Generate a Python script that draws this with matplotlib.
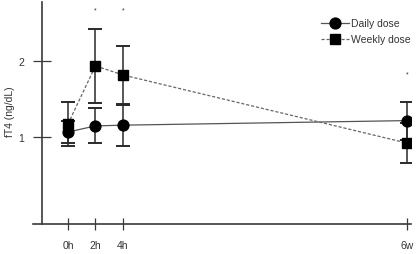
import matplotlib
matplotlib.use("Agg")
import matplotlib.pyplot as plt
from matplotlib import font_manager

names = {f.name for f in font_manager.fontManager.ttflist}
fam = "Liberation Sans Narrow" if "Liberation Sans Narrow" in names else "Liberation Sans"
plt.rcParams["font.family"] = [fam, "DejaVu Sans"]

categories = ["0h", "2h", "4h", "6w"]
daily_mean = [1.07, 1.15, 1.16, 1.22]
daily_err = [0.145, 0.23, 0.27, 0.25]
weekly_mean = [1.175, 1.94, 1.82, 0.925]
weekly_err = [0.29, 0.49, 0.38, 0.26]
# significance markers (None = not significant) and their heights
sig_level = [None, 2.68, 2.68, 1.83]

# layout positions of categories along the x axis
xpos = [0, 2, 4, 24.65]

W, H = 417, 255
fig = plt.figure(figsize=(W / 100, H / 100), dpi=100)
ax = fig.add_axes([42 / W, 1 - 225 / H, (411 - 42) / W, (225 - 3) / H])
ax.set_xlim(-1.89, 24.95)
ax.set_ylim(-0.14, 2.78)

lc = "#3a3a3a"
ax.errorbar(xpos, daily_mean, yerr=daily_err, fmt="none", ecolor="#2a2a2a",
            elinewidth=1.1, capsize=5.2, capthick=1.4, zorder=2)
ax.errorbar(xpos, weekly_mean, yerr=weekly_err, fmt="none", ecolor="#2a2a2a",
            elinewidth=1.1, capsize=5.2, capthick=1.4, zorder=2)
ax.plot(xpos, daily_mean, "-", color="#555555", lw=0.9, marker="o",
        ms=7.8, mfc="black", mec="black", zorder=3, label="Daily dose")
ax.plot(xpos, weekly_mean, linestyle=(0, (2.5, 1.5)), color="#666666", lw=0.9,
        marker="s", ms=7.2, mfc="black", mec="black", zorder=3, label="Weekly dose")

for x, s in zip(xpos, sig_level):
    if s is not None:
        ax.text(x, s, "*", ha="center", va="center", fontsize=5, color="#333333")

for sp in ax.spines.values():
    sp.set_visible(False)
ax.plot([-0.025, 1.0], [0, 0], transform=ax.transAxes, color=lc, lw=1.2, clip_on=False)
ax.plot([0, 0], [0, 1.0], transform=ax.transAxes, color=lc, lw=1.2, clip_on=False)

ax.set_xticks(xpos)
ax.set_xticklabels(categories)
ax.set_yticks([1, 2])
ax.set_yticklabels(["1", "2"])
ax.tick_params(axis="x", direction="inout", length=8.5, width=0.9, color=lc,
               labelsize=7.5, pad=7, labelcolor="#333333")
ax.tick_params(axis="y", direction="inout", length=13.5, width=0.9, color=lc,
               labelsize=7.5, pad=6, labelcolor="#333333")
ax.set_ylabel("fT4 (ng/dL)", fontsize=7.5, color="#333333")
ax.yaxis.set_label_coords(-(42 - 15) / (411 - 42), 0.51)

leg = ax.legend(loc="upper left", bbox_to_anchor=(316 / W, 1 - 14 / H),
                bbox_transform=fig.transFigure, frameon=False, fontsize=7.5,
                handlelength=2.7, handletextpad=0.15, borderpad=0, labelspacing=0.6)
for t in leg.get_texts():
    t.set_color("#333333")

fig.savefig("out.png", dpi=100)
